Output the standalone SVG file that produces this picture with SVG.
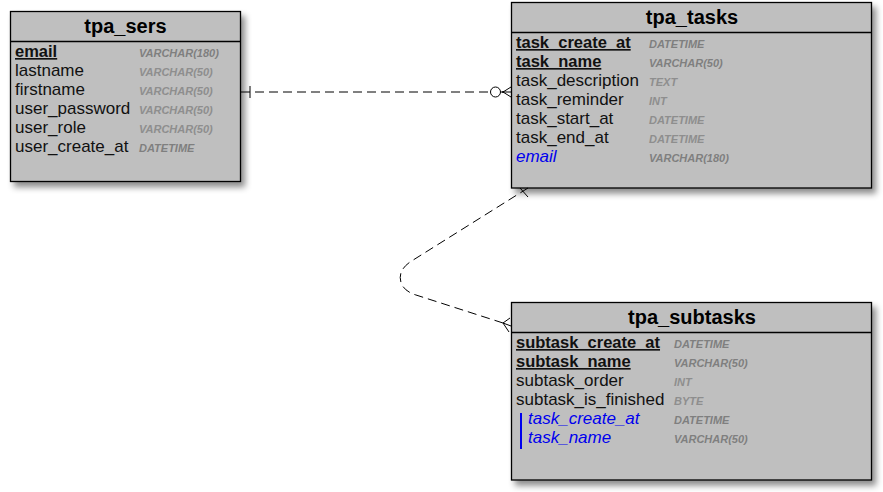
<svg xmlns="http://www.w3.org/2000/svg" width="883" height="492" viewBox="0 0 883 492">
<defs>
<filter id="sh" x="-10%" y="-10%" width="130%" height="130%">
<feDropShadow dx="4" dy="5" stdDeviation="3" flood-color="#000" flood-opacity="0.45"/>
</filter>
</defs>
<style>
.box{fill:#bfbfbf;stroke:#000;stroke-width:1.3}
.sep{stroke:#000;stroke-width:1.3}
.title{font-family:"Liberation Sans",Arial,sans-serif;font-size:20px;font-weight:bold;fill:#000;text-anchor:middle}
.col{font-family:"Liberation Sans",Arial,sans-serif;font-size:17px;fill:#111}
.pk{font-family:"Liberation Sans",Arial,sans-serif;font-size:16.5px;font-weight:bold;fill:#111;text-decoration:underline}
.fk{font-family:"Liberation Sans",Arial,sans-serif;font-size:17px;font-style:italic;fill:#0000ee}
.ty{font-family:"Liberation Sans",Arial,sans-serif;font-size:11px;font-weight:bold;font-style:italic;fill:#7f7f7f}
.tl{font-family:"Liberation Sans",Arial,sans-serif;font-size:11px;font-weight:bold;font-style:italic;fill:#8e8e8e}
.conn{fill:none;stroke:#000;stroke-width:1;stroke-dasharray:9,5}
.mk{fill:none;stroke:#000;stroke-width:1}
</style>
<g id="tpa_sers">
<rect class="box" x="10.5" y="11.5" width="230" height="170" filter="url(#sh)"/>
<line class="sep" x1="10.5" y1="41.5" x2="240.5" y2="41.5"/>
<text class="title" x="125.5" y="33">tpa_sers</text>
<text class="pk" x="15" y="57">email</text><text class="ty" x="139" y="57">VARCHAR(180)</text>
<text class="col" x="15" y="76">lastname</text><text class="tl" x="139" y="76">VARCHAR(50)</text>
<text class="col" x="15" y="95">firstname</text><text class="tl" x="139" y="95">VARCHAR(50)</text>
<text class="col" x="15" y="114">user_password</text><text class="tl" x="139" y="114">VARCHAR(50)</text>
<text class="col" x="15" y="133">user_role</text><text class="tl" x="139" y="133">VARCHAR(50)</text>
<text class="col" x="15" y="152">user_create_at</text><text class="ty" x="139" y="152">DATETIME</text>
</g>
<g id="tpa_tasks">
<rect class="box" x="511.5" y="2.5" width="360" height="185.5" filter="url(#sh)"/>
<line class="sep" x1="511.5" y1="32.5" x2="871.5" y2="32.5"/>
<text class="title" x="692" y="24">tpa_tasks</text>
<text class="pk" x="516" y="48">task_create_at</text><text class="ty" x="649" y="48">DATETIME</text>
<text class="pk" x="516" y="67">task_name</text><text class="ty" x="649" y="67">VARCHAR(50)</text>
<text class="col" x="516" y="86">task_description</text><text class="tl" x="649" y="86">TEXT</text>
<text class="col" x="516" y="105">task_reminder</text><text class="tl" x="649" y="105">INT</text>
<text class="col" x="516" y="124">task_start_at</text><text class="tl" x="649" y="124">DATETIME</text>
<text class="col" x="516" y="143">task_end_at</text><text class="tl" x="649" y="143">DATETIME</text>
<text class="fk" x="516" y="162">email</text><text class="ty" x="649" y="162">VARCHAR(180)</text>
</g>
<g id="tpa_subtasks">
<rect class="box" x="511.5" y="302.5" width="360" height="177.5" filter="url(#sh)"/>
<line class="sep" x1="511.5" y1="332.5" x2="871.5" y2="332.5"/>
<text class="title" x="692" y="324">tpa_subtasks</text>
<text class="pk" x="516" y="348">subtask_create_at</text><text class="ty" x="674" y="348">DATETIME</text>
<text class="pk" x="516" y="367">subtask_name</text><text class="ty" x="674" y="367">VARCHAR(50)</text>
<text class="col" x="516" y="386">subtask_order</text><text class="tl" x="674" y="386">INT</text>
<text class="col" x="516" y="405">subtask_is_finished</text><text class="tl" x="674" y="405">BYTE</text>
<line x1="521" y1="413" x2="521" y2="449" stroke="#0000ee" stroke-width="2"/>
<text class="fk" x="528" y="424">task_create_at</text><text class="ty" x="674" y="424">DATETIME</text>
<text class="fk" x="528" y="443">task_name</text><text class="ty" x="674" y="443">VARCHAR(50)</text>
</g>
<g id="connectors">
<path class="conn" d="M241,92 H490"/>
<line class="mk" x1="250" y1="86" x2="250" y2="98"/>
<circle class="mk" cx="495.5" cy="92" r="5" fill="#fff"/>
<path class="mk" d="M500.5,92 H511 M503,92 L511,87 M503,92 L511,97"/>
<circle cx="503" cy="92" r="1" fill="#000"/>
<path class="conn" d="M528,188 L410,262 Q396,272 402,285 Q406,292 416,295 L503,323"/>
<path class="mk" d="M520,188 L528,197"/>
<path class="mk" d="M503,323 L511,326 M503,323 L510,318 M503,323 L509,332"/>
</g>
</svg>
